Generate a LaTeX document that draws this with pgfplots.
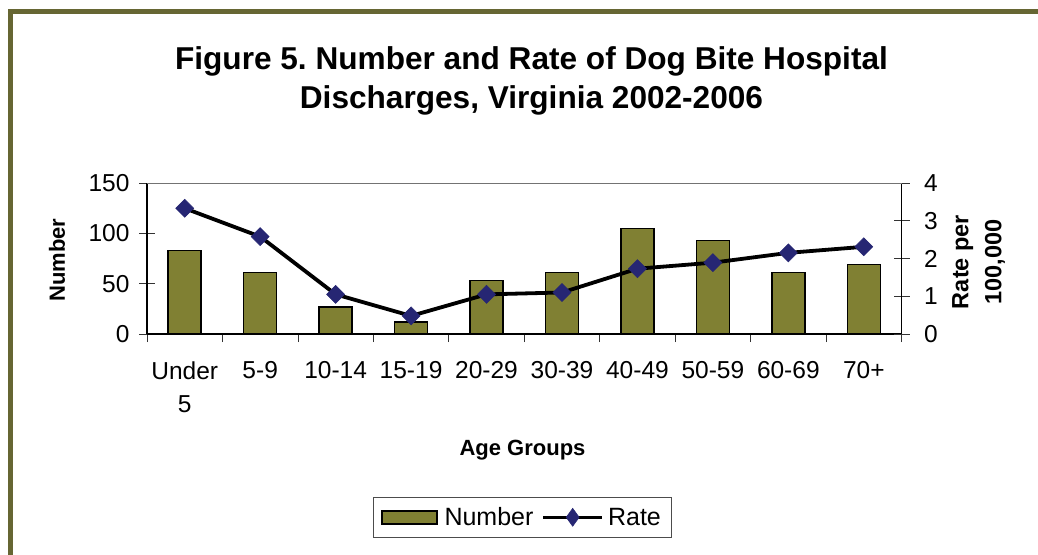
\documentclass[border=0pt]{standalone}
\usepackage{fontspec}
\setmainfont{Liberation Sans}
\usepackage{pgfplots}
\pgfplotsset{compat=1.18}
\definecolor{olivebar}{RGB}{128,128,51}
\definecolor{frameolive}{RGB}{102,102,51}
\definecolor{navyd}{RGB}{38,38,115}
\frenchspacing
\begin{document}
\begin{tikzpicture}
\path[use as bounding box] (0pt,0pt) rectangle (1038pt,-554pt);
\fill[white] (0pt,0pt) rectangle (1038pt,-554pt);
\draw[frameolive, line width=5pt] (10.8pt,-560pt) -- (10.8pt,-11.5pt) -- (1045pt,-11.5pt);
% title
\node[anchor=base, font=\fontsize{31.6}{38}\selectfont\bfseries] at (531.5pt,-69.3pt) {Figure 5. Number and Rate of Dog Bite Hospital};
\node[anchor=base, font=\fontsize{31.6}{38}\selectfont\bfseries] at (531.5pt,-108pt) {Discharges, Virginia 2002-2006};

\begin{axis}[
  at={(147pt,-334pt)}, anchor=south west,
  scale only axis, width=754.5pt, height=151pt,
  xmin=-0.5, xmax=9.5, ymin=0, ymax=150,
  axis x line*=bottom, axis y line*=left,
  axis line style={-, black, line width=1.1pt},
  ytick={0,50,100,150},
  xtick={0,...,9},
  xticklabels={{Under\\5},5-9,10-14,15-19,20-29,30-39,40-49,50-59,60-69,70+},
  x tick label style={align=center, yshift=-16pt},
  minor xtick={-0.5,0.5,...,9.5},
  major x tick style={draw=none},
  minor x tick style={yshift=-4pt, black!80, line width=0.8pt},
  y tick style={black!80, line width=0.8pt},
  tick align=center, major tick length=16pt, minor tick length=8pt,
  tick label style={font=\fontsize{24.5}{33}\selectfont},
  /pgf/number format/assume math mode=true,
  y tick label style={xshift=-6pt},
  clip=false,
]
\addplot[ybar, bar width=33pt, bar shift=0pt, fill=olivebar, draw=black, line width=1.5pt]
  coordinates {(0,83) (1,61) (2,27) (3,12) (4,53) (5,61) (6,105) (7,93) (8,61) (9,69)};
\end{axis}

\begin{axis}[
  at={(147pt,-334pt)}, anchor=south west,
  scale only axis, width=754.5pt, height=151pt,
  xmin=-0.5, xmax=9.5, ymin=0, ymax=4,
  axis x line=none, axis y line*=right,
  axis line style={-, black, line width=1.1pt},
  ytick={0,1,2,3,4},
  y tick style={black!80, line width=0.8pt},
  tick align=center, major tick length=16pt,
  tick label style={font=\fontsize{24.5}{33}\selectfont},
  /pgf/number format/assume math mode=true,
  y tick label style={xshift=11pt},
  clip=false,
  legend columns=2,
  legend style={at={(rel axis cs:0.2995,-1.08)}, anchor=north west,
    draw=black!70, line width=0.8pt, font=\fontsize{25}{30}\selectfont,
    inner xsep=8pt, inner ysep=8pt,
    /tikz/every even column/.append style={column sep=6pt}},
]
\draw[black!55, line width=0.9pt] (rel axis cs:0,1) -- (rel axis cs:1,1);
\addlegendimage{legend image code/.code={\draw[fill=olivebar, draw=black, line width=1.5pt] (0pt,-6.5pt) rectangle (55pt,6.5pt); \path (60pt,0pt);}}
\addlegendentry{Number}
\addplot[black, line width=3.8pt, mark=square*, mark size=6.4pt,
  mark options={rotate=45, fill=navyd, draw=navyd, line width=0.5pt},
  legend image code/.code={\draw[black, line width=3.5pt] (0pt,0pt) -- (59pt,0pt);
     \draw[fill=navyd, draw=navyd, line width=0.5pt] (29.5pt,9pt) -- (36pt,0pt) -- (29.5pt,-9pt) -- (23pt,0pt) -- cycle; \path (61pt,0pt);}]
  coordinates {(0,3.33) (1,2.58) (2,1.05) (3,0.48) (4,1.05) (5,1.10) (6,1.73) (7,1.89) (8,2.15) (9,2.31)};
\addlegendentry{Rate}
\end{axis}

\node[rotate=90, font=\fontsize{22}{26}\selectfont\bfseries] at (57pt,-260pt) {Number};
\node[font=\fontsize{22}{26}\selectfont\bfseries] at (522.5pt,-450pt) {Age Groups};
\node[rotate=90, align=center, font=\fontsize{23.5}{33}\selectfont\bfseries] at (978.5pt,-262pt) {Rate per\\100,000};
\end{tikzpicture}
\end{document}
